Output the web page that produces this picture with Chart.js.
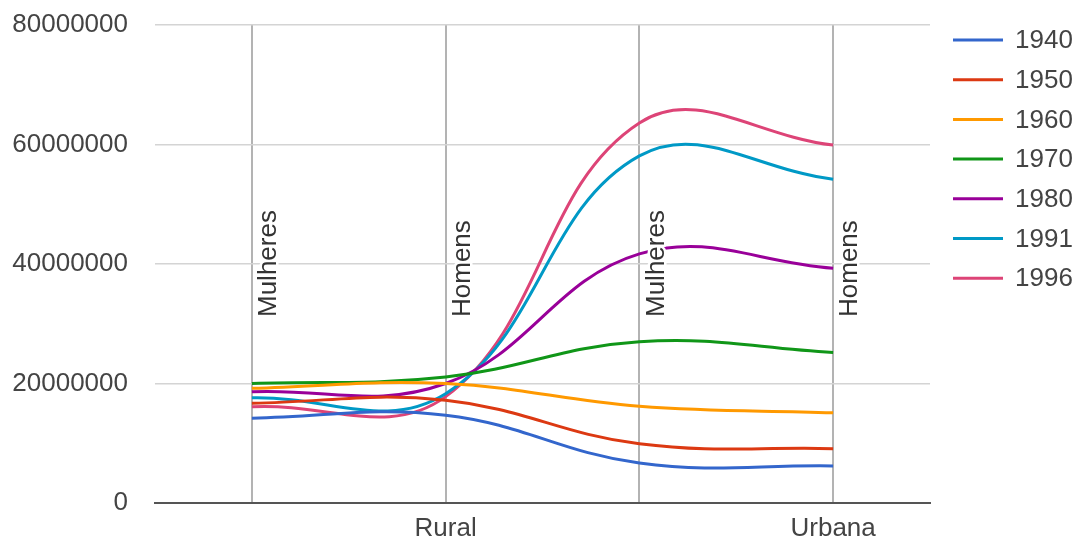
<!DOCTYPE html>
<html lang="pt">
<head>
<meta charset="UTF-8">
<title>População rural e urbana por sexo</title>
<style>
  html, body { margin: 0; padding: 0; background: #fff; }
  #wrap { width: 1076px; height: 542px; }
</style>
</head>
<body>
<div id="wrap"><canvas id="ctx"></canvas></div>

<script src="https://cdn.jsdelivr.net/npm/chart.js"></script>
<script>
// categories (inner labels) and their groups (bottom axis)
const categories = ['Mulheres', 'Homens', 'Mulheres', 'Homens'];
const groups = ['Rural', 'Rural', 'Urbana', 'Urbana'];

// series, one per census year
const years = ['1940', '1950', '1960', '1970', '1980', '1991', '1996'];
const s1940 = [14200000, 14700000, 6700000, 6200000];
const s1950 = [16700000, 17200000, 9900000, 9100000];
const s1960 = [19200000, 20000000, 16200000, 15100000];
const s1970 = [20000000, 21100000, 27000000, 25200000];
const s1980 = [18600000, 20000000, 41700000, 39300000];
const s1991 = [17600000, 18300000, 58100000, 54200000];
const s1996 = [16100000, 17800000, 63600000, 59900000];

// y axis range / ticks
const yMin = 0;
const yMax = 80000000;
const yStep = 20000000;

const seriesValues = [s1940, s1950, s1960, s1970, s1980, s1991, s1996];
const colors = ['#3366cc', '#dc3912', '#ff9900', '#109618', '#990099', '#0099c6', '#dd4477'];

const FONT = '"Liberation Sans", Arial, sans-serif';
const TEXT = '#444';

// rotated category labels drawn inside the plot, next to each vertical line
const innerLabels = {
    id: 'innerLabels',
    afterDatasetsDraw(chart) {
        const { ctx, chartArea, scales } = chart;
        ctx.save();
        ctx.font = '26px ' + FONT;
        ctx.textAlign = 'left';
        ctx.textBaseline = 'middle';
        ctx.lineJoin = 'round';
        categories.forEach((label, i) => {
            ctx.save();
            ctx.translate(scales.x.getPixelForValue(i) + 17, chartArea.top + 292);
            ctx.rotate(-Math.PI / 2);
            ctx.lineWidth = 5;
            ctx.strokeStyle = '#fff';
            ctx.strokeText(label, 0, 0);
            ctx.fillStyle = '#333';
            ctx.fillText(label, 0, 0);
            ctx.restore();
        });
        ctx.restore();
    }
};

// legend on the right, line samples + year
const sideLegend = {
    id: 'sideLegend',
    afterDraw(chart) {
        const { ctx, chartArea } = chart;
        ctx.save();
        ctx.font = '26px ' + FONT;
        ctx.textBaseline = 'middle';
        ctx.textAlign = 'left';
        chart.data.datasets.forEach((ds, i) => {
            const y = 40 + i * 39.7;
            const x0 = chartArea.right + 23;
            ctx.strokeStyle = ds.borderColor;
            ctx.lineWidth = 3;
            ctx.beginPath();
            ctx.moveTo(x0, y);
            ctx.lineTo(x0 + 50, y);
            ctx.stroke();
            ctx.fillStyle = TEXT;
            ctx.fillText(ds.label, x0 + 62, y + 1);
        });
        ctx.restore();
    }
};

const datasets = years.map((year, i) => ({
    label: year,
    data: seriesValues[i],
    borderColor: colors[i],
    backgroundColor: colors[i],
    borderWidth: 3,
    pointRadius: 0,
    pointHoverRadius: 0,
    tension: 0.4,
    fill: false
}));

new Chart(document.getElementById('ctx'), {
    type: 'line',
    data: { labels: categories, datasets: datasets },
    plugins: [innerLabels, sideLegend],
    options: {
        responsive: true,
        maintainAspectRatio: false,
        animation: false,
        layout: { padding: { top: 25, right: 146, bottom: 0, left: 0 } },
        plugins: {
            legend: { display: false },
            tooltip: { enabled: false }
        },
        scales: {
            x: {
                type: 'category',
                offset: true,
                grid: { offset: false, color: '#b3b3b3', lineWidth: 2, drawTicks: false },
                border: { display: true, color: '#555', width: 2 },
                ticks: {
                    autoSkip: false,
                    maxRotation: 0,
                    padding: 10,
                    color: TEXT,
                    font: { size: 26, family: FONT },
                    // group name under the last category of each group
                    callback: (v, i) => groups[i] !== groups[i + 1] ? groups[i] : ''
                },
                afterFit(scale) { scale.height = 39; }
            },
            y: {
                min: yMin,
                max: yMax,
                // gap between labels and plot comes from an invisible tick mark
                grid: { color: '#d4d4d4', lineWidth: 1.5, drawTicks: true, tickLength: 27, tickColor: 'rgba(0,0,0,0)' },
                border: { display: false },
                ticks: {
                    stepSize: yStep,
                    padding: 0,
                    color: TEXT,
                    font: { size: 26, family: FONT },
                    callback: v => String(v)
                },
                afterFit(scale) { scale.width = 155; }
            }
        }
    }
});
</script>
</body>
</html>
